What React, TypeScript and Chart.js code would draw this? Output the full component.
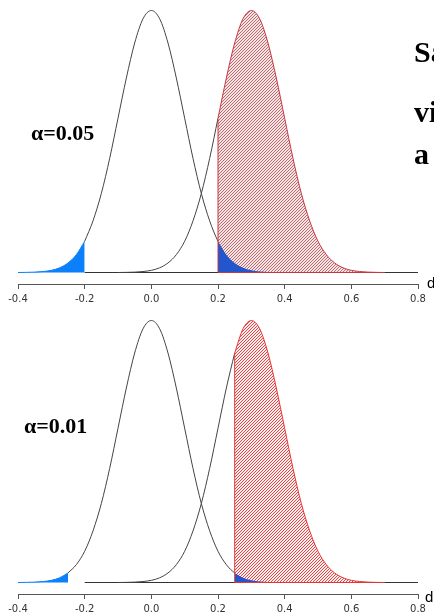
import React, { useEffect, useRef } from "react";
import { Chart, registerables } from "chart.js";

Chart.register(...registerables);

// x grid (effect size d)
const X = [
  -0.4, -0.375, -0.35, -0.325, -0.3, -0.275, -0.25, -0.225, -0.2, -0.175, -0.15, -0.125,
  -0.1, -0.075, -0.05, -0.025, 0, 0.025, 0.05, 0.075, 0.1, 0.125, 0.15, 0.175,
  0.2, 0.225, 0.25, 0.275, 0.3, 0.325, 0.35, 0.375, 0.4, 0.425, 0.45, 0.475,
  0.5, 0.525, 0.55, 0.575, 0.6, 0.625, 0.65, 0.675, 0.7, 0.725, 0.75, 0.775, 0.8,
];

// null distribution (centred at 0), heights
const NULL_D = [
  0, 0.002, 0.006, 0.015, 0.034, 0.074, 0.15, 0.28, 0.49, 0.81, 1.24, 1.79,
  2.42, 3.05, 3.6, 3.98, 4.11, 3.98, 3.6, 3.05, 2.42, 1.79, 1.24, 0.81,
  0.49, 0.28, 0.15, 0.074, 0.034, 0.015, 0.006, 0.002, 0, 0, 0, 0,
  0, 0, 0, 0, 0, 0, 0, 0, 0, 0, 0, 0, 0,
];

// alternative distribution (centred at 0.3)
const ALT_D = [
  0, 0, 0, 0, 0, 0, 0, 0, 0, 0, 0, 0,
  0, 0.002, 0.006, 0.015, 0.034, 0.074, 0.15, 0.28, 0.49, 0.81, 1.24, 1.79,
  2.42, 3.05, 3.6, 3.98, 4.11, 3.98, 3.6, 3.05, 2.42, 1.79, 1.24, 0.81,
  0.49, 0.28, 0.15, 0.074, 0.034, 0.015, 0.006, 0.002, 0, 0, 0, 0, 0,
];

const TICK_VALUES = [-0.4, -0.2, 0, 0.2, 0.4, 0.6, 0.8];
const TICK_LABELS = ["-0.4", "-0.2", "0.0", "0.2", "0.4", "0.6", "0.8"];

const CRIT = [0.2, 0.25];
const ALPHA_LABELS = ["α=0.05", "α=0.01"];
const HATCH_LINE = ["rgb(186,108,112)", "rgb(232,66,66)"];
const HATCH_BG = ["rgb(246,228,228)", "rgb(255,240,240)"];
const RED_BORDER = ["rgb(200,55,65)", "rgb(226,55,55)"];

const EPS = 1e-9;
function pts(ys: number[], lo: number, hi: number) {
  return X.map((x, i) => ({ x, y: ys[i] })).filter((p) => p.x >= lo - EPS && p.x <= hi + EPS);
}
function valAt(ys: number[], x: number) {
  const i = X.findIndex((v) => Math.abs(v - x) < EPS);
  return ys[i];
}

function makeHatch(line: string, bg: string) {
  const s = 3;
  const c = document.createElement("canvas");
  c.width = s;
  c.height = s;
  const g = c.getContext("2d")!;
  g.fillStyle = bg;
  g.fillRect(0, 0, s, s);
  g.fillStyle = line;
  for (let i = 0; i < s; i++) g.fillRect(i, s - 1 - i, 1, 1);
  return g.createPattern(c, "repeat")!;
}

function Panel({ idx }: { idx: number }) {
  const ref = useRef<HTMLCanvasElement>(null);
  useEffect(() => {
    const c = CRIT[idx];
    const lineBase = { pointRadius: 0, borderWidth: 1, fill: false, cubicInterpolationMode: "monotone" as const };
    const chart = new Chart(ref.current!, {
      type: "line",
      data: {
        datasets: [
          { ...lineBase, data: [{ x: c, y: 0 }, { x: c, y: valAt(ALT_D, c) }], borderColor: RED_BORDER[idx], order: 0 },
          { ...lineBase, data: [{ x: c, y: 0 }, { x: 0.7, y: 0 }], borderColor: RED_BORDER[idx], order: 0 },
          { ...lineBase, data: pts(NULL_D, c, 0.4), fill: "origin", backgroundColor: "rgb(35,85,205)", borderColor: "rgb(35,85,205)", borderWidth: 0, order: 1 },
          { ...lineBase, data: pts(ALT_D, c, 0.7), fill: "origin", backgroundColor: makeHatch(HATCH_LINE[idx], HATCH_BG[idx]), borderColor: RED_BORDER[idx], order: 2 },
          { ...lineBase, data: pts(ALT_D, -0.1, c), borderColor: "#444", order: 3 },
          { ...lineBase, data: pts(NULL_D, -c, 0.4), borderColor: "#444", order: 4 },
          { ...lineBase, data: pts(NULL_D, -0.4, -c), fill: "origin", backgroundColor: "rgb(10,128,250)", borderColor: "rgb(10,128,250)", order: 5 },
          { ...lineBase, data: [{ x: -0.2, y: 0 }, { x: 0.8, y: 0 }], borderColor: "#333", order: 6 },
        ],
      },
      options: {
        animation: false,
        responsive: false,
        devicePixelRatio: 1,
        layout: { padding: { left: 18, right: 16, top: 0, bottom: 0 } },
        plugins: { legend: { display: false }, tooltip: { enabled: false } },
        events: [],
        scales: {
          x: {
            type: "linear",
            min: -0.4,
            max: 0.8,
            afterBuildTicks: (s: any) => {
              s.ticks = TICK_VALUES.map((v) => ({ value: v }));
            },
            afterFit: (s: any) => {
              s.height = 26;
            },
            ticks: {
              autoSkip: false,
              maxRotation: 0,
              padding: 4,
              color: "#333",
              font: { family: "'DejaVu Sans', sans-serif", size: 10 },
              callback: (_v: any, i: number) => TICK_LABELS[i],
            },
            grid: { display: true, drawOnChartArea: false, drawTicks: true, tickLength: 5, color: "#555" },
            border: { display: true, color: "#555", width: 1 },
          },
          y: { display: false, min: -0.1804, max: 4.2748 },
        },
      },
    });
    return () => chart.destroy();
  }, [idx]);
  return (
    <canvas
      ref={ref}
      width={434}
      height={310}
      style={{ position: "absolute", left: 0, top: idx * 310, width: 434, height: 310, display: "block" }}
    />
  );
}

const serif = { position: "absolute" as const, whiteSpace: "nowrap" as const, fontFamily: "'Liberation Serif', 'Times New Roman', serif", fontWeight: "bold" as const, lineHeight: 1, color: "#000" };
const sans = { position: "absolute" as const, whiteSpace: "nowrap" as const, fontFamily: "'Liberation Sans', Arial, sans-serif", fontSize: 15, lineHeight: 1, color: "#000" };

export default function App() {
  return (
    <div style={{ position: "absolute", left: 0, top: 0, width: 434, height: 615, overflow: "hidden", background: "#fff" }}>
      <Panel idx={0} />
      <Panel idx={1} />
      <div style={{ ...serif, fontSize: 22, left: 31, top: 121.6 }}>{ALPHA_LABELS[0]}</div>
      <div style={{ ...serif, fontSize: 22, left: 24, top: 414.6 }}>{ALPHA_LABELS[1]}</div>
      <div style={{ ...serif, fontSize: 30, left: 414, top: 37 }}>Sa</div>
      <div style={{ ...serif, fontSize: 30, left: 414, top: 97 }}>vi</div>
      <div style={{ ...serif, fontSize: 30, left: 414, top: 139 }}>a</div>
      <div style={{ ...sans, left: 427, top: 275.3 }}>d</div>
      <div style={{ ...sans, left: 425, top: 589 }}>d</div>
    </div>
  );
}
